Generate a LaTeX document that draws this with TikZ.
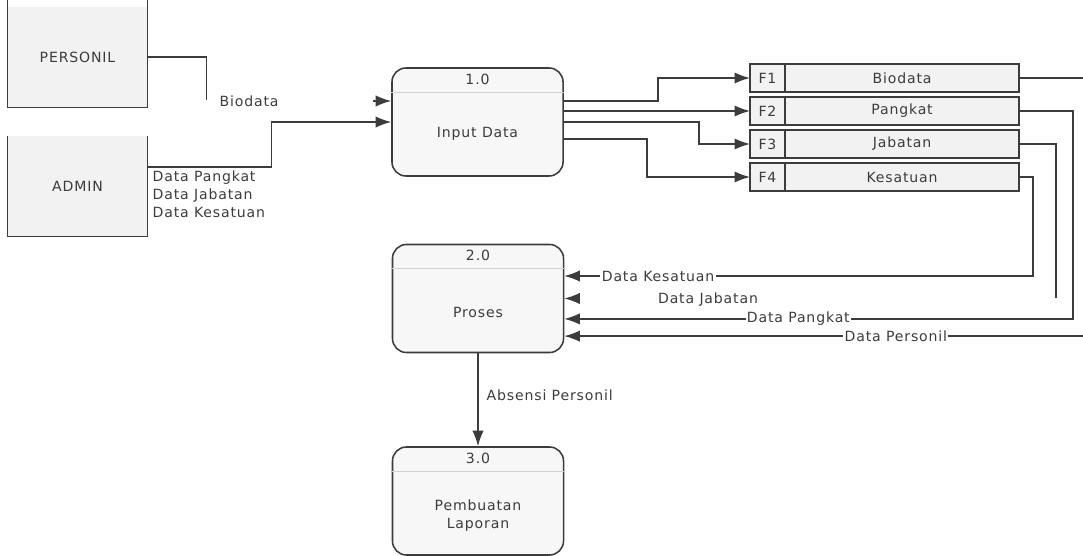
\documentclass[tikz,border=0pt]{standalone}
\usepackage{fontspec}
\setmainfont{DejaVu Sans}[LetterSpace=6]
\usetikzlibrary{arrows.meta, positioning}
\definecolor{ink}{HTML}{3C3C3C}
\definecolor{boxfill}{HTML}{F2F2F2}

\begin{document}
\begin{tikzpicture}[x=0.025cm, y=-0.025cm,
    every node/.style={font=\fontsize{10}{12.8}\selectfont, text=ink},
    entity/.style={rectangle, fill=boxfill, minimum width=3.475cm, minimum height=2.5cm},
    proc/.style={rectangle, rounded corners=.35cm, draw=ink, line width=1.1pt,
                 fill=boxfill!60, minimum width=4.275cm, minimum height=2.7cm},
    fid/.style={rectangle, draw=ink, line width=1pt, fill=boxfill, outer sep=0pt,
                minimum width=.875cm, minimum height=.7cm},
    fname/.style={fid, minimum width=5.85cm},
    line/.style={draw=ink, line width=1pt},
    arrow/.style={line, -{Latex[length=11pt, width=8pt]}},
    lbl/.style={inner sep=1pt},
    cut/.style={lbl, fill=white}
  ]
    \useasboundingbox (0,0) rectangle (1083,556);

    \node[entity] (pers) at (77.5,57) {PERSONIL};
    \node[entity] (adm) at (77.5,186) {ADMIN};
    \foreach \e in {pers, adm}
      \draw[line] (\e.north west) -- (\e.south west) -- (\e.south east) -- (\e.north east);

    \node[proc] (p1) at (477.5,122) {};
    \node[proc] (p2) at (478,298.5) {};
    \node[proc] (p3) at (478,501) {};
    \foreach \p in {p1, p2, p3}
      \draw[gray!35, line width=.6pt] ([yshift=-.62cm]\p.north west) -- ([yshift=-.62cm]\p.north east);
    \node (n1) at ([yshift=-.3cm]p1.north) {1.0};
    \node (n2) at ([yshift=-.3cm]p2.north) {2.0};
    \node (n3) at ([yshift=-.3cm]p3.north) {3.0};
    \node (t1) at ([yshift=-.3cm]p1.center) {Input Data};
    \node (t2) at ([yshift=-.36cm]p2.center) {Proses};
    \node[align=center] (t3) at ([yshift=-.37cm]p3.center) {Pembuatan\\Laporan};

    \node[fid] (sid1) at (767.5,78) {F1};
    \node[fname, right=0pt of sid1] (s1) {Biodata};
    \node[fid] (sid2) at (767.5,111) {F2};
    \node[fname, right=0pt of sid2] (s2) {Pangkat};
    \node[fid] (sid3) at (767.5,144) {F3};
    \node[fname, right=0pt of sid3] (s3) {Jabatan};
    \node[fid] (sid4) at (767.5,177) {F4};
    \node[fname, right=0pt of sid4] (s4) {Kesatuan};

    \draw[line] (pers.north west) -- ++(0,-10);
    \draw[line] (pers.north east) -- ++(0,-10);
    \draw[line] (pers.east) -- ++(59,0) -- ++(0,43);
    \node[lbl, anchor=west] (lbio) at (218,101) {Biodata};
    \draw[arrow] ([xshift=-.45cm, yshift=.525cm]p1.west) -- ([yshift=.525cm]p1.west);
    \draw[arrow] ([yshift=.475cm]adm.east) -- ++(124,0) |- (p1.west);
    \node[lbl, anchor=north west, align=left] (ladm) at (151,169)
      {Data Pangkat\\Data Jabatan\\Data Kesatuan};

    \draw[arrow] ([yshift=.525cm]p1.east) -- ++(94,0) |- (sid1.west);
    \draw[arrow] (p1.east |- sid2.west) -- (sid2.west);
    \draw[arrow] (p1.east) -- ++(135,0) |- (sid3.west);
    \draw[arrow] ([yshift=-.425cm]p1.east) -- ++(83,0) |- (sid4.west);

    \draw[arrow] (s1.east) -- ++(80,0) |- ([yshift=-.94cm]p2.east)
      node[cut, pos=.69] (lper) {Data Personil};
    \draw[arrow] (s2.east) -- ++(54,0) |- ([yshift=-.51cm]p2.east)
      node[cut, pos=.77] (lpan) {Data Pangkat};
    \draw[line] (s3.east) -- ++(37,0) -- ++(0,154);
    \node[lbl] (ljab) at (708,300) {Data Jabatan};
    \draw[arrow] ([xshift=.4cm]p2.east) -- (p2.east);
    \draw[arrow] (s4.east) -- ++(14,0) |- ([yshift=.5625cm]p2.east)
      node[cut, pos=.9] (lkes) {Data Kesatuan};

    \draw[arrow] (p2.south) -- (p3.north);
    \node[lbl, anchor=west] (labs) at (485,395) {Absensi Personil};
\end{tikzpicture}
\end{document}
